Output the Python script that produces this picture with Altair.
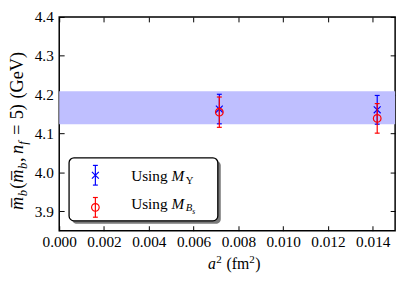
import altair as alt
import pandas as pd

# ---------------- data ----------------
a2_fm2 = [0.00715, 0.0142]
mb_upsilon = [4.163, 4.161]
err_upsilon = [0.038, 0.037]
mb_bs = [4.155, 4.139]
err_bs = [0.039, 0.038]
band_low = [4.124]
band_high = [4.209]
x_tick_values = [0.000, 0.002, 0.004, 0.006, 0.008, 0.010, 0.012, 0.014]
y_tick_values = [3.9, 4.0, 4.1, 4.2, 4.3, 4.4]
x_domain = [0.0, 0.015]
y_domain = [3.85, 4.4]

# ---------------- styling ----------------
W, H = 341, 217
FONT = "'Liberation Serif', 'Times New Roman', 'DejaVu Serif', serif"
BLUE = "#0000ff"
RED = "#ff0000"
BAND = "#bfbfff"

ups = pd.DataFrame({
    "a2": a2_fm2,
    "m": mb_upsilon,
    "lo": [m - e for m, e in zip(mb_upsilon, err_upsilon)],
    "hi": [m + e for m, e in zip(mb_upsilon, err_upsilon)],
})
bs = pd.DataFrame({
    "a2": a2_fm2,
    "m": mb_bs,
    "lo": [m - e for m, e in zip(mb_bs, err_bs)],
    "hi": [m + e for m, e in zip(mb_bs, err_bs)],
})
band = pd.DataFrame({"lo": band_low, "hi": band_high})
one = pd.DataFrame({"k": [0]})

xs = alt.Scale(domain=x_domain, nice=False, zero=False)
ys = alt.Scale(domain=y_domain, nice=False, zero=False)


def X(field, axis=None):
    return alt.X(f"{field}:Q", scale=xs, axis=axis)


def Y(field, axis=None):
    return alt.Y(f"{field}:Q", scale=ys, axis=axis)


XSHAPE = "M-1,-1L1,1M-1,1L1,-1"
layers = []

# shaded band
layers.append(alt.Chart(band).mark_rect(color=BAND).encode(y=Y("lo"), y2="hi"))


def series(df, color, shape, size):
    out = []
    out.append(alt.Chart(df).mark_rule(color=color, strokeWidth=1.2).encode(
        x=X("a2"), y=Y("lo"), y2="hi"))
    for f in ("lo", "hi"):
        out.append(alt.Chart(df).mark_tick(color=color, orient="horizontal", size=5,
                                            thickness=1.2, opacity=1).encode(
            x=X("a2"), y=Y(f)))
    out.append(alt.Chart(df).mark_point(shape=shape, filled=False, color=color, size=size,
                                        strokeWidth=1.2, opacity=1).encode(
        x=X("a2"), y=Y("m")))
    return out


layers += series(ups, BLUE, XSHAPE, 49)
layers += series(bs, RED, "circle", 60)

# axes (matplotlib-like: labels outside, ticks inward on all four sides)
common = dict(grid=False, title=None, domain=False)
tick_style = dict(labels=False, ticks=True, tickSize=5, tickColor="black", tickWidth=1)


def axis_layer(xaxis, yaxis):
    return alt.Chart(ups).mark_point(opacity=0).encode(x=X("a2", xaxis), y=Y("m", yaxis))


layers.append(axis_layer(alt.Axis(orient="bottom", values=x_tick_values, format=".3f", ticks=False,
                                  labelFont=FONT, labelFontSize=15.5, labelColor="black",
                                  labelPadding=4, labelFlush=False, labelOverlap=False, **common), None))
layers.append(axis_layer(alt.Axis(orient="top", offset=-H, values=x_tick_values, **tick_style, **common), None))
layers.append(axis_layer(alt.Axis(orient="bottom", offset=-H, values=x_tick_values, **tick_style, **common), None))
layers.append(axis_layer(None, alt.Axis(orient="left", values=y_tick_values, format=".1f", ticks=False,
                                        labelFont=FONT, labelFontSize=15.5, labelColor="black",
                                        labelPadding=6, labelFlush=False, labelOverlap=False, **common)))
layers.append(axis_layer(None, alt.Axis(orient="right", offset=-W, values=y_tick_values, **tick_style, **common)))
layers.append(axis_layer(None, alt.Axis(orient="left", offset=-W, values=y_tick_values, **tick_style, **common)))

# ---------------- text with sub/superscripts ----------------
REG = {' ': 250, '(': 333, ')': 333, ',': 250, '=': 564, '.': 250, 'G': 722, 'e': 444, 'V': 722,
       'f': 333, 'm': 778, 'U': 722, 's': 389, 'i': 278, 'n': 500, 'g': 500, '\u03a5': 722}
for d in "0123456789":
    REG[d] = 500
ITA = {'m': 722, 'b': 500, 'n': 500, 'f': 278, 'a': 500, 'M': 833, 'B': 611, 's': 389}


def text_width(txt, italic, size):
    tab = ITA if italic else REG
    return sum(tab.get(c, 0 if ord(c) in (0x305, 0x304) else 500) for c in txt) * size / 1000.0


def text_run(segs, x0, y0, angle, base):
    out = []
    pos = 0.0
    for txt, italic, scale, shift, gap in segs:
        pos += gap * base
        size = base * scale
        out.append(alt.Chart(one).mark_text(
            text=txt, font=FONT, fontSize=size, fontStyle="italic" if italic else "normal",
            angle=angle, align="left", baseline="alphabetic", dx=pos, dy=shift, color="black"
        ).encode(x=alt.value(x0), y=alt.value(y0)))
        pos += text_width(txt, italic, size)
    return out


OVL = "m\u0305"
ytitle = [
    (OVL, True, 1, 0, 0), ("b", True, .7, 4, 0.03), ("(", False, 1, 0, 0.06),
    (OVL, True, 1, 0, 0), ("b", True, .7, 4, 0.03), (",", False, 1, 0, 0.04),
    ("n", True, 1, 0, 0.18), ("f", True, .7, 4, 0.02), ("=", False, 1, 0, 0.34),
    ("5", False, 1, 0, 0.29), (")", False, 1, 0, 0), ("(GeV)", False, 1, 0, 0.31),
]
layers += text_run(ytitle, -37, 196, 270, 18.5)

xtitle = [
    ("a", True, 1, 0, 0), ("2", False, .7, -6, 0.03), ("(fm", False, 1, 0, 0.3),
    ("2", False, .7, -6, 0), (")", False, 1, 0, 0.02),
]
layers += text_run(xtitle, 151, 256, 0, 16)

# ---------------- legend ----------------
layers.append(alt.Chart(one).mark_rect(color="#7a7a7a", cornerRadius=5).encode(
    x=alt.value(13), x2=alt.value(164), y=alt.value(146), y2=alt.value(210)))
layers.append(alt.Chart(one).mark_rect(fill="white", stroke="black", strokeWidth=1.3, cornerRadius=5).encode(
    x=alt.value(10), x2=alt.value(161), y=alt.value(143), y2=alt.value(207)))


def legend_marker(cy, color, shape, size):
    cx = 36.7
    out = [alt.Chart(one).mark_rule(color=color, strokeWidth=1.2).encode(
        x=alt.value(cx), y=alt.value(cy - 10), y2=alt.value(cy + 10))]
    for yy in (cy - 10, cy + 10):
        out.append(alt.Chart(one).mark_rule(color=color, strokeWidth=1.2).encode(
            x=alt.value(cx - 2.5), x2=alt.value(cx + 2.5), y=alt.value(yy)))
    out.append(alt.Chart(one).mark_point(shape=shape, filled=False, color=color, size=size,
                                         strokeWidth=1.2, opacity=1).encode(
        x=alt.value(cx), y=alt.value(cy)))
    return out


layers += legend_marker(160.7, BLUE, XSHAPE, 49)
layers += legend_marker(193.3, RED, "circle", 60)

leg1 = [("Using", False, 1, 0, 0), ("M", True, 1, 0, 0.25), ("\u03a5", False, .7, 3, 0.1)]
leg2 = [("Using", False, 1, 0, 0), ("M", True, 1, 0, 0.25), ("B", True, .7, 3, 0.1),
        ("s", True, .5, 5.5, 0)]
layers += text_run(leg1, 73, 167, 0, 15.5)
layers += text_run(leg2, 73, 194.5, 0, 15.5)

chart = alt.layer(*layers).resolve_axis(x="independent", y="independent").properties(
    width=W, height=H,
    padding={"left": 52, "top": 7, "right": 8, "bottom": 50},
    autosize=alt.AutoSizeParams(type="none"),
).configure_view(stroke="black", strokeWidth=1.5)

chart.save("out.html", embed_options={"renderer": "svg", "actions": False})
